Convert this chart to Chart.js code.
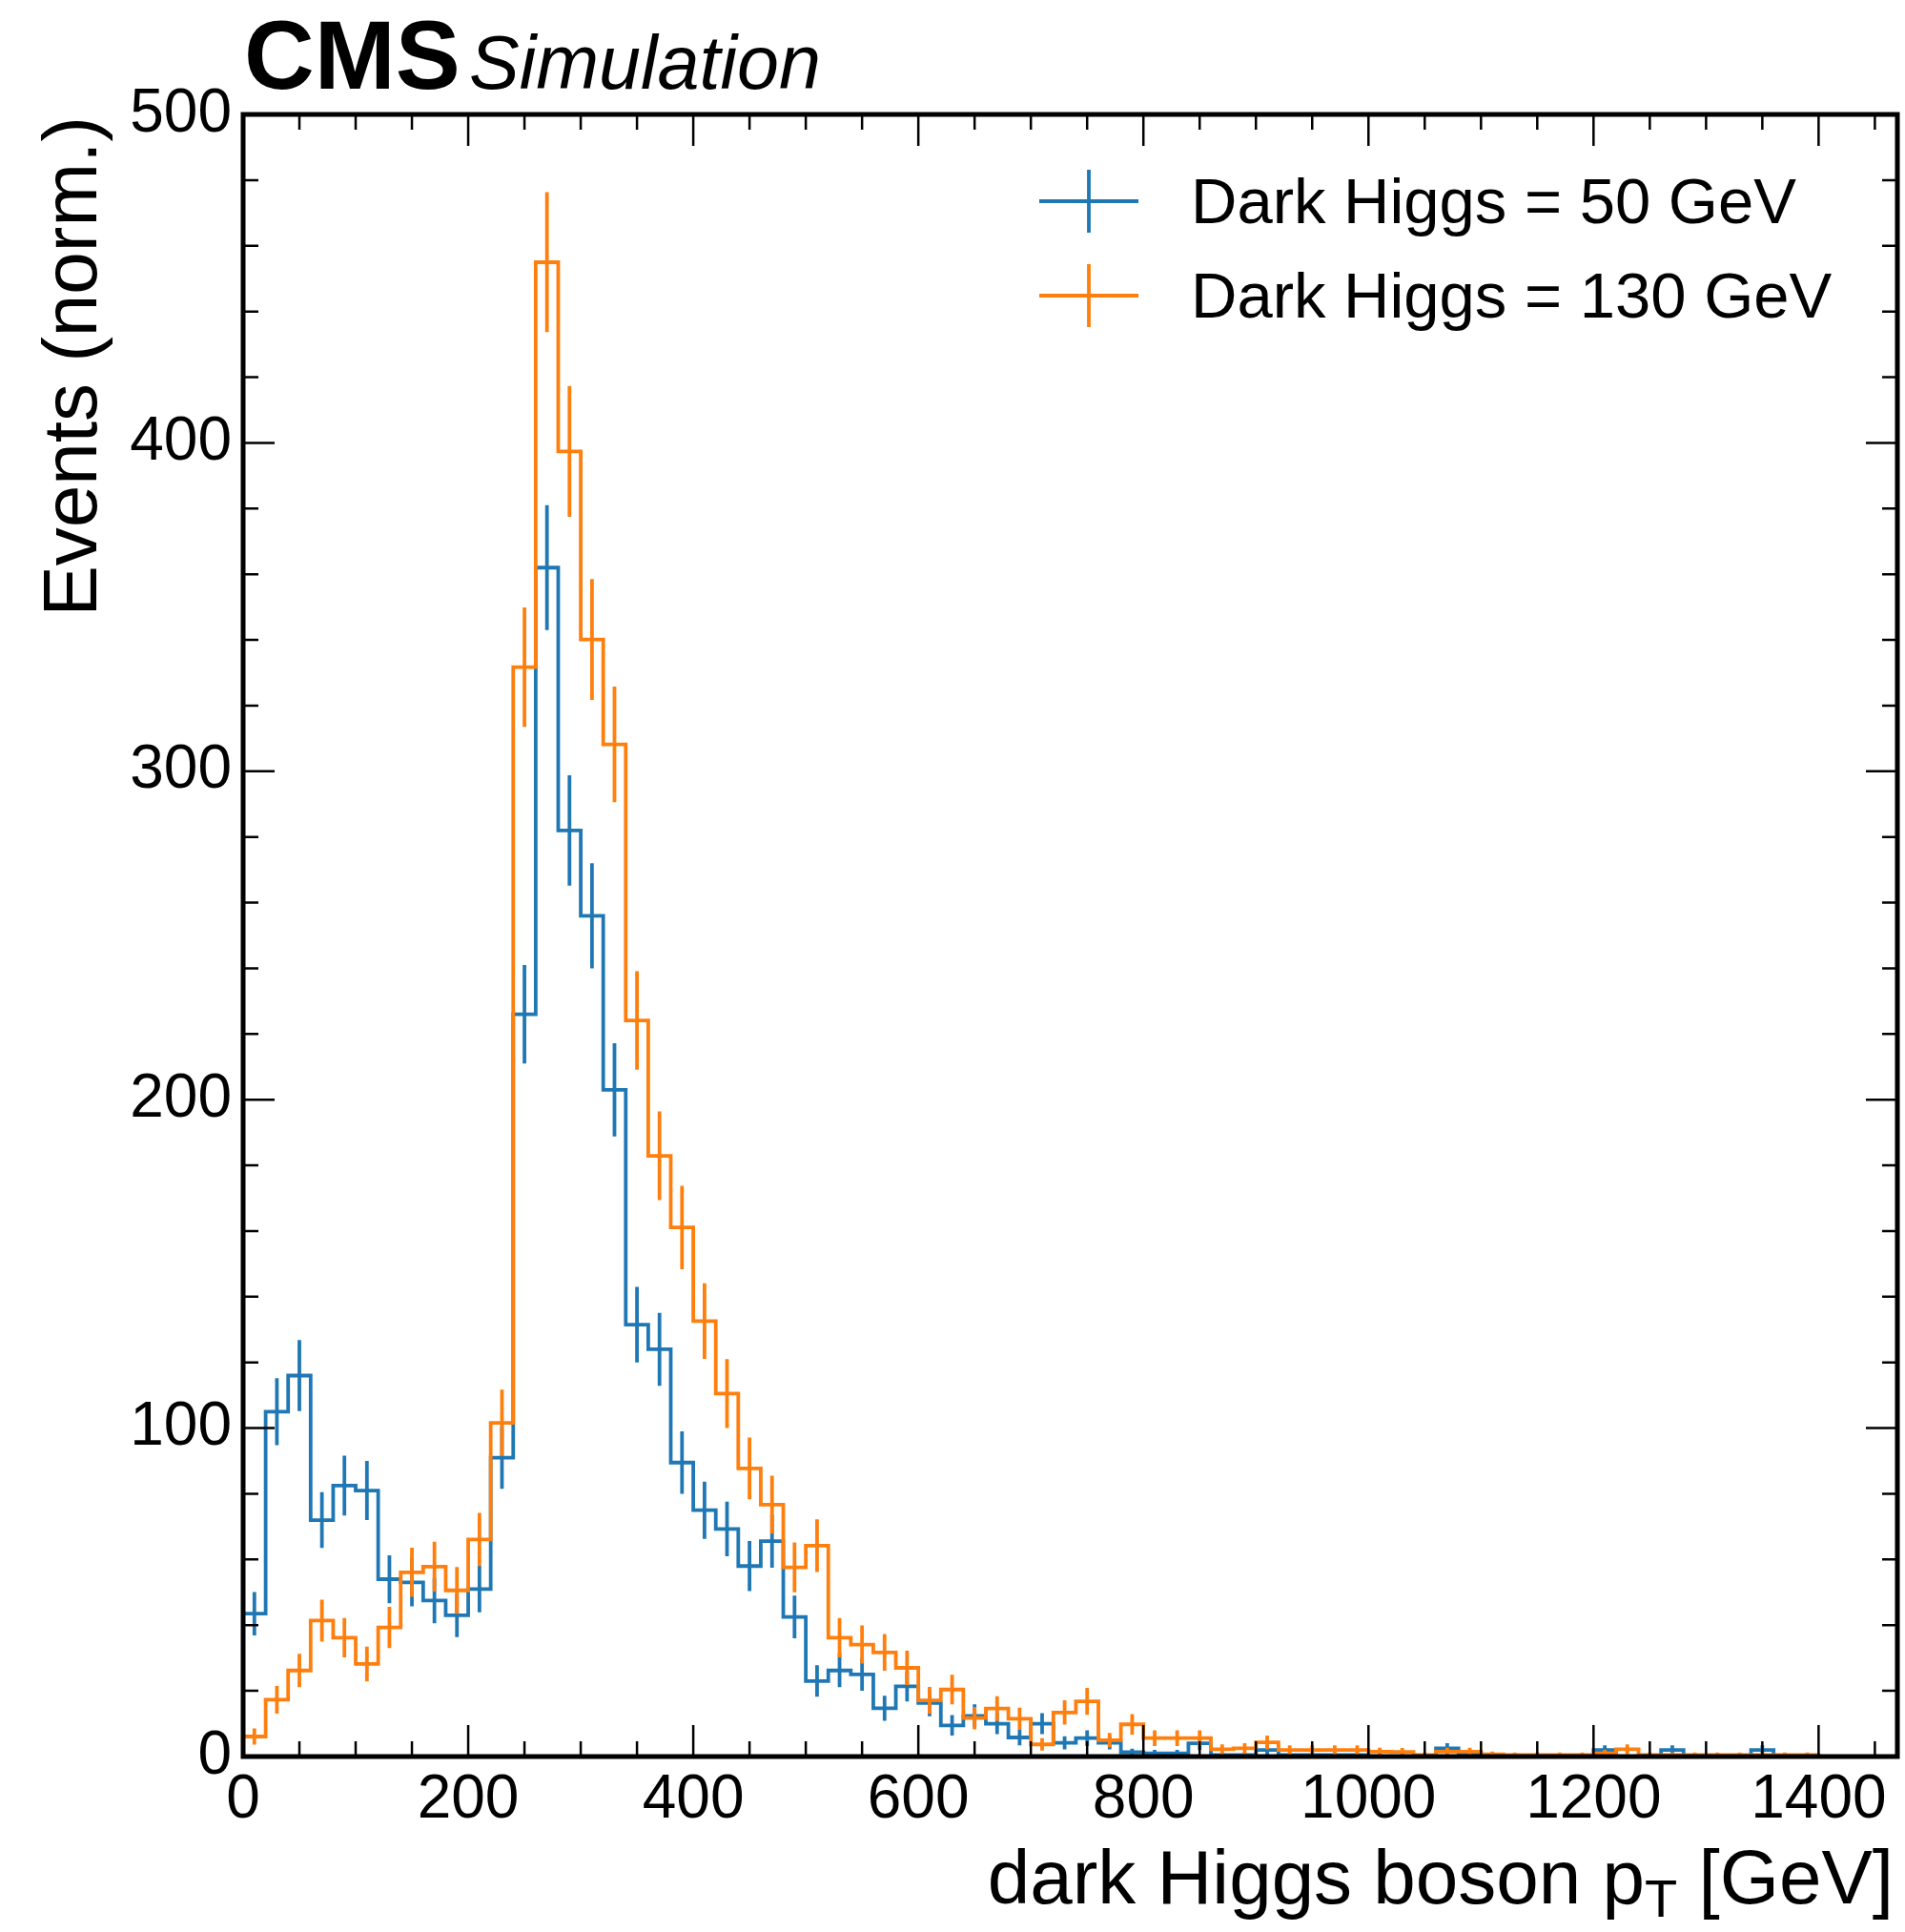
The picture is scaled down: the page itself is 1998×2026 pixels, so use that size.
<!DOCTYPE html>
<html><head><meta charset="utf-8">
<script src="https://cdn.jsdelivr.net/npm/chart.js@4.4.1/dist/chart.umd.min.js"></script>
<style>html,body{margin:0;padding:0;background:#fff;}canvas{display:block;}</style>
</head><body>
<canvas id="c" width="1998" height="2026" style="width:1998px;height:2026px"></canvas>
<script>
// ---- data (20 GeV bins starting at 0) ----
const binWidth = 20;
const xMin = 0, xMax = 1470;
const yMin = 0, yMax = 500;
const xMajorStep = 200, xMinorStep = 50;
const yMajorStep = 100, yMinorStep = 20;
const xTickLabels = [0, 200, 400, 600, 800, 1000, 1200, 1400];
const yTickLabels = [0, 100, 200, 300, 400, 500];
const seriesLabels = ['Dark Higgs = 50 GeV', 'Dark Higgs = 130 GeV'];
const seriesColors = ['#1f77b4', '#ff7f0e'];

const blueValues = [43.5,105,116,72,82.5,81,54,53,47.5,43,
  51,91,226,362,282,256,203,131.5,124,89.5,
  75,69.3,58,65.6,42.5,23,26.2,25,14.7,21.4,
  16.3,9.5,12.4,10,5.8,10,4.2,5.6,4.2,1.3,
  1,1,4,0.5,0.5,2,0.5,0.5,0.5,0.5,
  0,0,0,2.5,1,0,0,0,0,0,
  2,0,0,2,0,0,0,2,0,0,
  0,0,0];
const blueErrors = [6.6,10.2,10.8,8.5,9.1,9.0,7.3,7.3,6.9,6.6,
  7.1,9.5,15.0,19.0,16.8,16.0,14.2,11.5,11.1,9.5,
  8.7,8.3,7.6,8.1,6.5,4.8,5.1,5.0,3.8,4.6,
  4.0,3.1,3.5,3.2,2.4,3.2,2.0,2.4,2.0,1.1,
  1.0,1.0,2.0,0.7,0.7,1.4,0.7,0.7,0.7,0.7,
  0,0,0,1.6,1.0,0,0,0,0,0,
  1.4,0,0,1.4,0,0,0,1.4,0,0,
  0,0,0];
const orangeValues = [6.1,17.3,26.2,41.4,36.2,28.2,39.3,56.1,57.8,50.6,
  66.1,101.6,331.7,455,397.4,340.1,308.2,224.1,182.9,161.1,
  132.6,110.5,87.7,76.7,57.6,64.2,36.2,34.1,31.7,27.0,
  17.1,20.4,11.7,14.6,11.5,3.7,13.4,16.8,5.0,9.8,
  5.6,5.6,5.6,2.2,2.5,4.3,2,2,2,2,
  1.5,1.4,0.5,1.5,1.5,0.7,0.5,0.5,0.5,0.5,
  1,2.2,0.5,0.5,0.5,0.5,0.5,0.5,0.5,0.5,
  0,0,0];
const orangeErrors = [2.5,4.2,5.1,6.4,6.0,5.3,6.3,7.5,7.6,7.1,
  8.1,10.1,18.2,21.3,19.9,18.4,17.6,15.0,13.5,12.7,
  11.5,10.5,9.4,8.8,7.6,8.0,6.0,5.8,5.6,5.2,
  4.1,4.5,3.4,3.8,3.4,1.9,3.7,4.1,2.2,3.1,
  2.4,2.4,2.4,1.5,1.6,2.1,1.4,1.4,1.4,1.4,
  1.2,1.2,0.7,1.2,1.2,0.8,0.7,0.7,0.7,0.7,
  1.0,1.5,0.7,0.7,0.7,0.7,0.7,0.7,0.7,0.7,
  0,0,0];

// ---- helpers building library datasets from the arrays ----
function stepPoints(vals) {
  const pts = vals.map((v, i) => ({x: i * binWidth, y: v}));
  pts.push({x: vals.length * binWidth, y: vals[vals.length - 1]});
  return pts;
}
function errorPoints(vals, errs) {
  const pts = [];
  vals.forEach((v, i) => {
    if (errs[i] > 0) {
      const c = (i + 0.5) * binWidth;
      pts.push({x: c, y: v - errs[i]}, {x: c, y: v + errs[i]}, {x: c, y: null});
    }
  });
  return pts;
}

const FONT = "'Liberation Sans', Arial, Helvetica, sans-serif";
const LW = 3.8;

const decor = {
  id: 'decor',
  afterDatasetsDraw(chart) {
    const {ctx, chartArea: a, scales: {x, y}} = chart;
    ctx.save();
    ctx.strokeStyle = '#000';
    ctx.lineCap = 'butt';
    // ticks (inward, all four sides)
    const majL = 33, minL = 16;
    ctx.lineWidth = 2.5;
    ctx.beginPath();
    for (let v = xMin; v <= xMax; v += xMinorStep) {
      const px = x.getPixelForValue(v);
      const L = (v % xMajorStep === 0) ? majL : minL;
      ctx.moveTo(px, a.bottom); ctx.lineTo(px, a.bottom - L);
      ctx.moveTo(px, a.top); ctx.lineTo(px, a.top + L);
    }
    for (let v = yMin; v <= yMax; v += yMinorStep) {
      const py = y.getPixelForValue(v);
      const L = (v % yMajorStep === 0) ? majL : minL;
      ctx.moveTo(a.left, py); ctx.lineTo(a.left + L, py);
      ctx.moveTo(a.right, py); ctx.lineTo(a.right - L, py);
    }
    ctx.stroke();
    // frame
    ctx.lineWidth = 5;
    ctx.strokeRect(a.left, a.top, a.right - a.left, a.bottom - a.top);

    // legend
    const lx = 1142, tx = 1249;
    const rows = [{cy: 211, base: 234}, {cy: 310, base: 333}];
    ctx.font = '67px ' + FONT;
    ctx.textAlign = 'left';
    ctx.textBaseline = 'alphabetic';
    rows.forEach((r, i) => {
      ctx.strokeStyle = seriesColors[i];
      ctx.lineWidth = LW;
      ctx.beginPath();
      ctx.moveTo(lx - 52, r.cy); ctx.lineTo(lx + 52, r.cy);
      ctx.moveTo(lx, r.cy - 33); ctx.lineTo(lx, r.cy + 33);
      ctx.stroke();
      ctx.fillStyle = '#000';
      ctx.fillText(seriesLabels[i], tx, r.base);
    });

    // CMS label
    ctx.fillStyle = '#000';
    ctx.font = 'bold 102px ' + FONT;
    ctx.fillText('CMS', 256, 93);
    ctx.font = 'italic 79px ' + FONT;
    ctx.fillText('Simulation', 492, 93);

    // y title
    ctx.save();
    ctx.font = '80px ' + FONT;
    ctx.translate(101, a.top + 2);
    ctx.rotate(-Math.PI / 2);
    ctx.textAlign = 'right';
    ctx.fillText('Events (norm.)', 0, 0);
    ctx.restore();

    // x title with subscript
    const base = 1996, right = 1986;
    ctx.textAlign = 'left';
    const big = '80px ' + FONT, small = '56px ' + FONT;
    const p1 = 'dark Higgs boson p', p2 = 'T', p3 = ' [GeV]';
    ctx.font = big; const w1 = ctx.measureText(p1).width, w3 = ctx.measureText(p3).width;
    ctx.font = small; const w2 = ctx.measureText(p2).width;
    let sx = right - (w1 + w2 + w3);
    ctx.font = big; ctx.fillText(p1, sx, base); sx += w1;
    ctx.font = small; ctx.fillText(p2, sx, base + 14); sx += w2;
    ctx.font = big; ctx.fillText(p3, sx, base);
    ctx.restore();
  }
};

const ctx = document.getElementById('c').getContext('2d');
new Chart(ctx, {
  type: 'line',
  data: {
    datasets: [
      {label: seriesLabels[1] + ' err', data: errorPoints(orangeValues, orangeErrors), borderColor: seriesColors[1], borderWidth: LW, pointRadius: 0, spanGaps: false, order: 0},
      {label: seriesLabels[1], data: stepPoints(orangeValues), borderColor: seriesColors[1], borderWidth: LW, pointRadius: 0, stepped: 'before', order: 1},
      {label: seriesLabels[0] + ' err', data: errorPoints(blueValues, blueErrors), borderColor: seriesColors[0], borderWidth: LW, pointRadius: 0, spanGaps: false, order: 2},
      {label: seriesLabels[0], data: stepPoints(blueValues), borderColor: seriesColors[0], borderWidth: LW, pointRadius: 0, stepped: 'before', order: 3}
    ]
  },
  options: {
    responsive: false,
    devicePixelRatio: 1,
    animation: false,
    events: [],
    layout: {padding: {top: 120, right: 8, left: 0, bottom: 0}},
    plugins: {legend: {display: false}, tooltip: {enabled: false}, title: {display: false}},
    scales: {
      x: {
        type: 'linear', min: xMin, max: xMax,
        grid: {display: false, drawTicks: false},
        border: {display: false},
        ticks: {padding: 8, color: '#000', font: {family: FONT, size: 64},
          callback: (v) => String(v), maxRotation: 0, autoSkip: false},
        afterBuildTicks: (s) => { s.ticks = xTickLabels.map(v => ({value: v})); },
        afterFit: (s) => { s.height = 184; }
      },
      y: {
        type: 'linear', min: yMin, max: yMax,
        grid: {display: false, drawTicks: false},
        border: {display: false},
        ticks: {padding: 12, color: '#000', font: {family: FONT, size: 64},
          callback: (v) => String(v)},
        afterBuildTicks: (s) => { s.ticks = yTickLabels.map(v => ({value: v})); },
        afterFit: (s) => { s.width = 255; }
      }
    }
  },
  plugins: [decor]
});
</script>
</body></html>
